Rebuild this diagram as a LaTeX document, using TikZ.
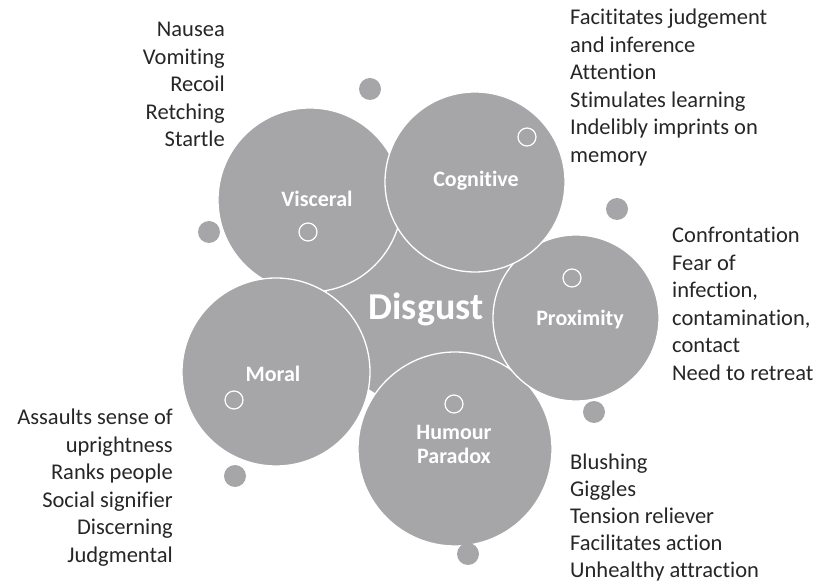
\documentclass[tikz,border=0pt]{standalone}
\usepackage{fontspec}
\setmainfont{Carlito}[Ligatures=NoCommon]
\definecolor{bubble}{RGB}{166,166,168}
\definecolor{note}{RGB}{38,38,38}

\begin{document}
\begin{tikzpicture}[x=1pt,y=-1pt,
		bubble/.style={circle,fill=bubble,draw=white,line width=1.3pt,inner sep=0pt,outer sep=0pt},
		ring/.style={circle,draw=white,line width=1.2pt,inner sep=0pt,minimum size=18pt},
		dot/.style={circle,fill=bubble,inner sep=0pt,minimum size=22pt},
		tag/.style={text=white,font=\bfseries\fontsize{22}{24}\selectfont,align=center,inner sep=0pt},
		notes/.style={text=note,font=\fontsize{22.5}{27.5}\selectfont,inner sep=0pt}]
		\useasboundingbox (0,0) rectangle (823,585);
		% hub and the five bubbles around it
		\node[bubble,draw=none,minimum size=200pt] (core) at (426,307) {};
		\node[bubble,minimum size=184pt] (visc) at (310,200) {};
		\node[bubble,minimum size=188pt] (moral) at (276,372) {};
		\node[bubble,minimum size=194pt] (hum) at (455,449) {};
		\node[bubble,minimum size=166pt] (prox) at (576,318) {};
		\node[bubble,minimum size=180pt] (cogn) at (475,182) {};
		% titles
		\node[tag,font=\bfseries\fontsize{38}{40}\selectfont] (disg) at (426,309) {Disgust};
		\node[tag] (visct) at (317,199) {Visceral};
		\node[tag] (cognt) at (476,181) {Cognitive};
		\node[tag] (proxt) at (580,320) {Proximity};
		\node[tag] (moralt) at (273,374) {Moral};
		\node[tag] (humt) at (454,444) {Humour\\Paradox};
		% open rings inside the bubbles
		\node[ring] (viscr) at (308,232) {};
		\node[ring] (cognr) at (527,137) {};
		\node[ring] (proxr) at (572,278) {};
		\node[ring] (moralr) at (234,400) {};
		\node[ring] (humr) at (454,404) {};
		% small satellites
		\node[dot] (d1) at (370,89) {};
		\node[dot] (d2) at (209,232) {};
		\node[dot] (d3) at (617,209) {};
		\node[dot] (d4) at (594,412) {};
		\node[dot] (d5) at (235,476) {};
		\node[dot] (d6) at (468,554) {};
		% lists
		\node[notes,anchor=north east,align=right] (viscl) at (225,22) {Nausea\\Vomiting\\Recoil\\Retching\\Startle};
		\node[notes,anchor=north west,align=left] (cognl) at (570,9) {Facititates judgement\\and inference\\Attention\\Stimulates learning\\Indelibly imprints on\\memory};
		\node[notes,anchor=north west,align=left] (proxl) at (672,227) {Confrontation\\Fear of\\infection,\\contamination,\\contact\\Need to retreat};
		\node[notes,anchor=north east,align=right] (morall) at (173,409) {Assaults sense of\\uprightness\\Ranks people\\Social signifier\\Discerning\\Judgmental};
		\node[notes,anchor=north west,align=left,font=\fontsize{22.5}{27}\selectfont] (huml) at (570,454) {Blushing\\Giggles\\Tension reliever\\Facilitates action\\Unhealthy attraction};
\end{tikzpicture}
\end{document}
